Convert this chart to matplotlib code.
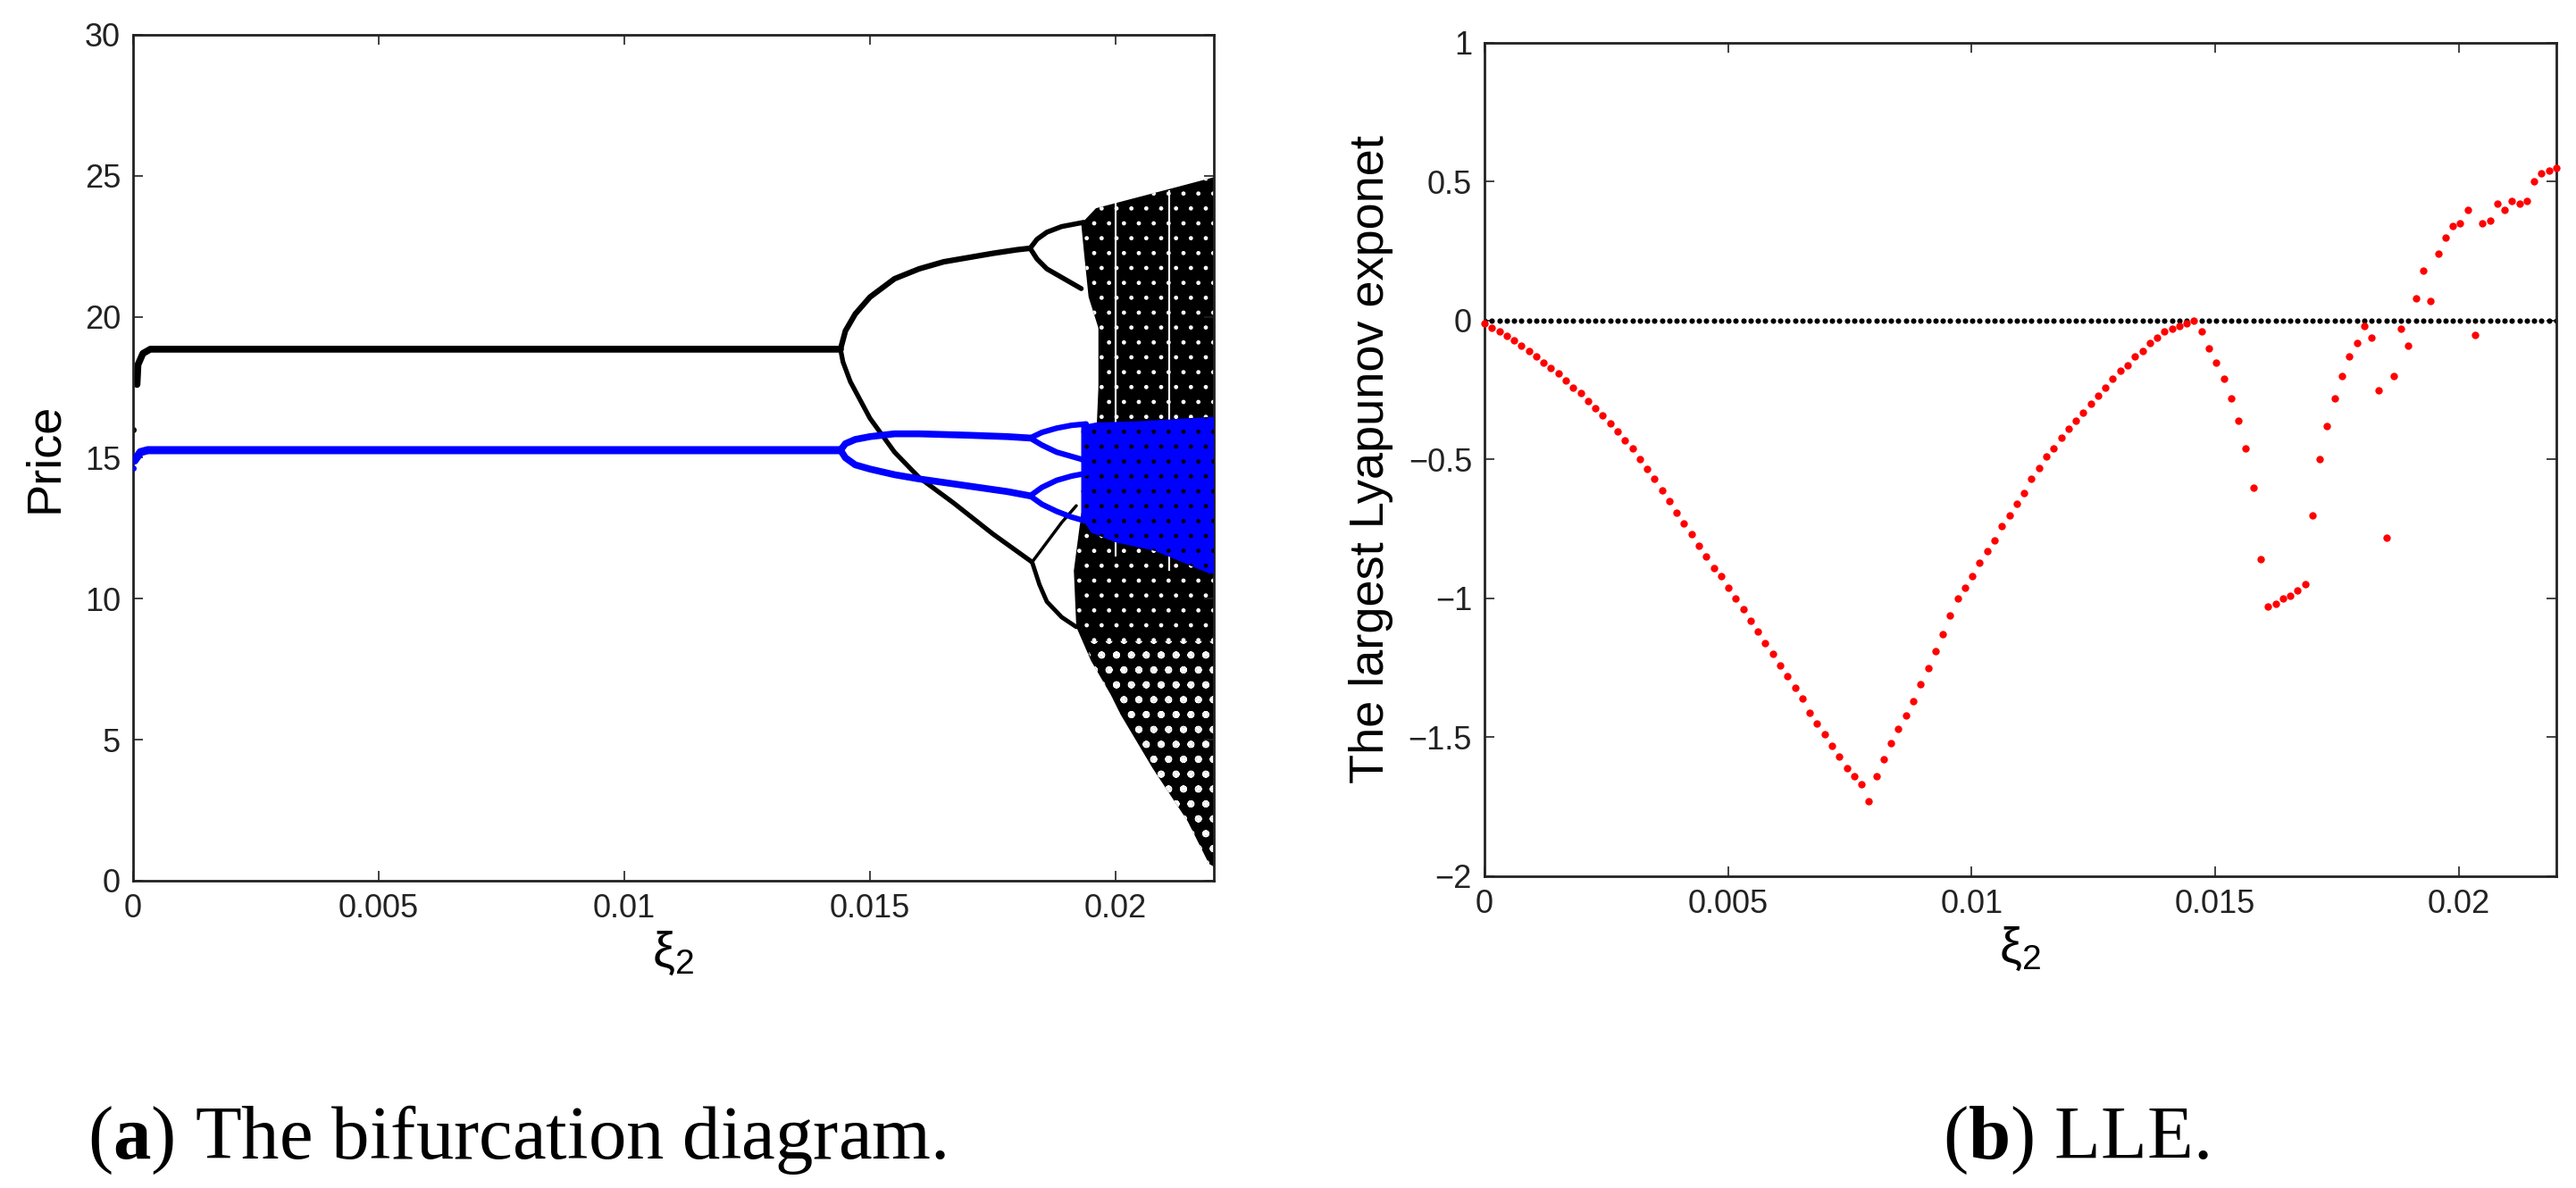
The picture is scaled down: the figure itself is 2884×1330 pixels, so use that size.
import matplotlib
matplotlib.use("Agg")
import matplotlib.pyplot as plt
import numpy as np

plt.rcParams['font.family'] = ['Liberation Sans', 'DejaVu Sans']
plt.rcParams['mathtext.fontset'] = 'custom'
plt.rcParams['mathtext.rm'] = 'Liberation Sans'
plt.rcParams['mathtext.it'] = 'Liberation Sans:italic'
plt.rcParams['mathtext.bf'] = 'Liberation Serif:bold'
plt.rcParams['hatch.linewidth'] = 1.0

# ---------------- (a) bifurcation diagram, branches ----------------
# period-1 branches
p1_black_x = [0.00008, 0.00010, 0.00020, 0.00035, 0.01440]
p1_black_y = [17.6, 18.3, 18.7, 18.85, 18.85]
p1_blue_x = [0.00003, 0.00015, 0.00030, 0.01440]
p1_blue_y = [14.9, 15.2, 15.27, 15.27]
stray_black = ([0.0], [16.0])
stray_blue = ([0.0], [14.65])

# period-2 branches (black)
upper_black_x = [0.0144, 0.0145, 0.0147, 0.0150, 0.0155, 0.0160, 0.0165, 0.0170, 0.0175, 0.0180, 0.01826]
upper_black_y = [18.85, 19.5, 20.1, 20.7, 21.35, 21.7, 21.95, 22.1, 22.25, 22.38, 22.43]
lower_black_x = [0.0144, 0.01445, 0.0146, 0.0150, 0.0155, 0.0160, 0.0167, 0.0175, 0.0183]
lower_black_y = [18.85, 18.4, 17.7, 16.4, 15.2, 14.3, 13.4, 12.3, 11.3]

# period-4 loops (black)
loop1_top_x = [0.01826, 0.0184, 0.0186, 0.0189, 0.0192, 0.01935]
loop1_top_y = [22.43, 22.75, 23.0, 23.2, 23.3, 23.35]
loop1_bot_x = [0.01826, 0.0184, 0.0186, 0.0189, 0.0191, 0.0193]
loop1_bot_y = [22.43, 22.05, 21.7, 21.4, 21.2, 21.0]
loop2_top_x = [0.0183, 0.0186, 0.0189, 0.0192]
loop2_top_y = [11.3, 12.0, 12.7, 13.3]
loop2_bot_x = [0.0183, 0.01845, 0.0186, 0.0189, 0.0192]
loop2_bot_y = [11.3, 10.5, 9.9, 9.35, 9.0]

# period-2 and period-4 branches (blue)
upper_blue_x = [0.0144, 0.0145, 0.0147, 0.0150, 0.0155, 0.0160, 0.0170, 0.0178, 0.01826]
upper_blue_y = [15.27, 15.5, 15.65, 15.75, 15.85, 15.85, 15.8, 15.75, 15.7]
lower_blue_x = [0.0144, 0.0145, 0.0147, 0.0150, 0.0155, 0.0160, 0.0170, 0.0178, 0.01826]
lower_blue_y = [15.27, 15.0, 14.75, 14.6, 14.4, 14.25, 14.0, 13.8, 13.65]
bl1_top_x = [0.01826, 0.0185, 0.0188, 0.0191, 0.0194]
bl1_top_y = [15.7, 15.9, 16.05, 16.15, 16.2]
bl1_bot_x = [0.01826, 0.0185, 0.0188, 0.0191, 0.0194]
bl1_bot_y = [15.7, 15.45, 15.2, 15.05, 14.9]
bl2_top_x = [0.01826, 0.0185, 0.0188, 0.0191, 0.0194]
bl2_top_y = [13.65, 13.95, 14.2, 14.35, 14.45]
bl2_bot_x = [0.01826, 0.0185, 0.0188, 0.0191, 0.0194]
bl2_bot_y = [13.65, 13.35, 13.1, 12.9, 12.75]

# chaotic bands (outline of the cloud of points)
chaos_black_x = [0.01930, 0.01960, 0.02030, 0.02120, 0.02200, 0.02200, 0.02190, 0.02147,
                 0.02075, 0.02010, 0.01990, 0.01950, 0.01920, 0.01915, 0.01930, 0.01960,
                 0.01965, 0.01965, 0.01945, 0.01935]
chaos_black_y = [23.30, 23.85, 24.17, 24.58, 24.95, 0.50, 0.60, 2.10,
                 4.00, 5.90, 6.60, 7.80, 9.00, 11.0, 13.0, 15.5,
                 17.5, 19.6, 20.7, 22.4]
# sparser lower tail of the black cloud
sparse_x = [0.01940, 0.02200, 0.02200, 0.02190, 0.02147, 0.02075, 0.02010, 0.01990, 0.01950]
sparse_y = [8.50, 8.50, 0.50, 0.60, 2.10, 4.00, 5.90, 6.60, 7.80]
chaos_blue_x = [0.01930, 0.01960, 0.02050, 0.02200, 0.02200, 0.02190, 0.02080, 0.02000, 0.01950, 0.01930]
chaos_blue_y = [16.15, 16.25, 16.30, 16.45, 10.90, 10.90, 11.70, 12.00, 12.35, 12.90]
window_x = [0.02000, 0.02110]
window_lo = [11.5, 11.0]
window_hi = [24.1, 24.5]

# ---------------- (b) largest Lyapunov exponent ----------------
xi2 = np.linspace(0, 0.022, 146)
lle = [
    -0.01, -0.025, -0.04, -0.055, -0.07, -0.09, -0.11, -0.13, -0.15, -0.17,
    -0.19, -0.215, -0.24, -0.26, -0.29, -0.315, -0.34, -0.37, -0.40, -0.43,
    -0.46, -0.50, -0.535, -0.57, -0.61, -0.65, -0.69, -0.73, -0.77, -0.81,
    -0.85, -0.89, -0.92, -0.96, -1.00, -1.04, -1.08, -1.12, -1.16, -1.20,
    -1.24, -1.28, -1.32, -1.36, -1.41, -1.45, -1.49, -1.53, -1.57, -1.61,
    -1.64, -1.67, -1.73,
    -1.64, -1.58, -1.52, -1.47, -1.42, -1.37, -1.31, -1.25, -1.19, -1.13,
    -1.06, -1.00, -0.96, -0.92, -0.87, -0.83, -0.79, -0.74, -0.70, -0.66,
    -0.62, -0.57, -0.53, -0.49, -0.46, -0.42, -0.39, -0.36, -0.33, -0.30,
    -0.27, -0.24, -0.21, -0.18, -0.16, -0.13, -0.11, -0.08, -0.06, -0.04,
    -0.03, -0.02, -0.01, 0.00,
    -0.04, -0.10, -0.15, -0.21, -0.28, -0.36, -0.46, -0.60, -0.86, -1.03,
    -1.02, -1.00, -0.99, -0.97, -0.95, -0.70, -0.50, -0.38, -0.28, -0.20,
    -0.13, -0.08, -0.02, -0.06, -0.25, -0.78, -0.20, -0.03, -0.09, 0.08,
    0.18, 0.07, 0.24, 0.30, 0.34, 0.35, 0.40, -0.05, 0.35, 0.36,
    0.42, 0.40, 0.43, 0.42, 0.43, 0.50, 0.53, 0.54, 0.55,
]
zero_line = np.zeros(len(xi2))

xticks = [0, 0.005, 0.01, 0.015, 0.02]
xtick_labels = ['0', '0.005', '0.01', '0.015', '0.02']
yticks_a = [0, 5, 10, 15, 20, 25, 30]
yticks_b = [-2, -1.5, -1, -0.5, 0, 0.5, 1]
ytick_labels_b = ['\u22122', '\u22121.5', '\u22121', '\u22120.5', '0', '0.5', '1']

fig = plt.figure(figsize=(28.84, 13.30), dpi=100)
ax1 = fig.add_axes([0.05166, 0.25865, 0.41956, 0.71203])
ax2 = fig.add_axes([0.57628, 0.26241, 0.41609, 0.70150])

# chaotic clouds
ax1.fill(chaos_black_x, chaos_black_y, facecolor='black', edgecolor='white',
         hatch='.', linewidth=0, zorder=1)
ax1.fill(sparse_x, sparse_y, facecolor='none', edgecolor='white',
         hatch='o', linewidth=0, zorder=1.2)
ax1.vlines(window_x, window_lo, window_hi, colors='white', linewidth=1.5, zorder=1.5)
ax1.fill(chaos_blue_x, chaos_blue_y, facecolor='#0000ff', edgecolor='black',
         hatch='.', linewidth=0, zorder=3)

# periodic branches
for bx, by, lw in [(p1_black_x, p1_black_y, 5.5), (upper_black_x, upper_black_y, 4.5),
                   (lower_black_x, lower_black_y, 3.8), (loop1_top_x, loop1_top_y, 4.0),
                   (loop1_bot_x, loop1_bot_y, 4.0), (loop2_top_x, loop2_top_y, 2.5),
                   (loop2_bot_x, loop2_bot_y, 3.5)]:
    ax1.plot(bx, by, color='black', linewidth=lw, solid_capstyle='round', zorder=2)
for bx, by, lw in [(p1_blue_x, p1_blue_y, 6.5), (upper_blue_x, upper_blue_y, 5.5),
                   (lower_blue_x, lower_blue_y, 5.5), (bl1_top_x, bl1_top_y, 4.5),
                   (bl1_bot_x, bl1_bot_y, 4.5), (bl2_top_x, bl2_top_y, 4.5),
                   (bl2_bot_x, bl2_bot_y, 4.5)]:
    ax1.plot(bx, by, color='#0000ff', linewidth=lw, solid_capstyle='round', zorder=4)
ax1.plot(*stray_black, 'o', color='black', markersize=4, zorder=2)
ax1.plot(*stray_blue, 'o', color='#0000ff', markersize=4, zorder=4)

ax1.set_xlim(0, 0.022)
ax1.set_ylim(0, 30)
ax1.set_yticks(yticks_a)
ax1.set_ylabel('Price', fontsize=39, labelpad=14)

# LLE
ax2.plot(xi2, zero_line, 'o', color='black', markersize=4.4, markeredgewidth=0, zorder=2)
ax2.plot(xi2, lle, 'o', color='#ff0000', markersize=6.0, markeredgewidth=0, zorder=3,
         clip_on=False)
ax2.set_xlim(0, 0.022)
ax2.set_ylim(-2, 1)
ax2.set_yticks(yticks_b)
ax2.set_yticklabels(ytick_labels_b)
ax2.set_ylabel('The largest Lyapunov exponet', fontsize=39, labelpad=12)

for ax in (ax1, ax2):
    ax.set_xticks(xticks)
    ax.set_xticklabels(xtick_labels)
    ax.set_xlabel('\u03be$_2$', fontsize=40, labelpad=4)
    ax.tick_params(direction='in', length=8, width=1.2, labelsize=26, pad=10,
                   top=True, right=True, colors='#222222')
    for sp in ax.spines.values():
        sp.set_linewidth(2.0)
        sp.set_color('#222222')

fig.text(98 / 2884, 1 - 1297 / 1330, r'($\mathbf{a}$) The bifurcation diagram.',
         fontsize=61, family='Liberation Serif', va='baseline', ha='left')
fig.text(2175 / 2884, 1 - 1297 / 1330, r'($\mathbf{b}$) LLE.',
         fontsize=61, family='Liberation Serif', va='baseline', ha='left')

fig.savefig('out.png', dpi=100)
